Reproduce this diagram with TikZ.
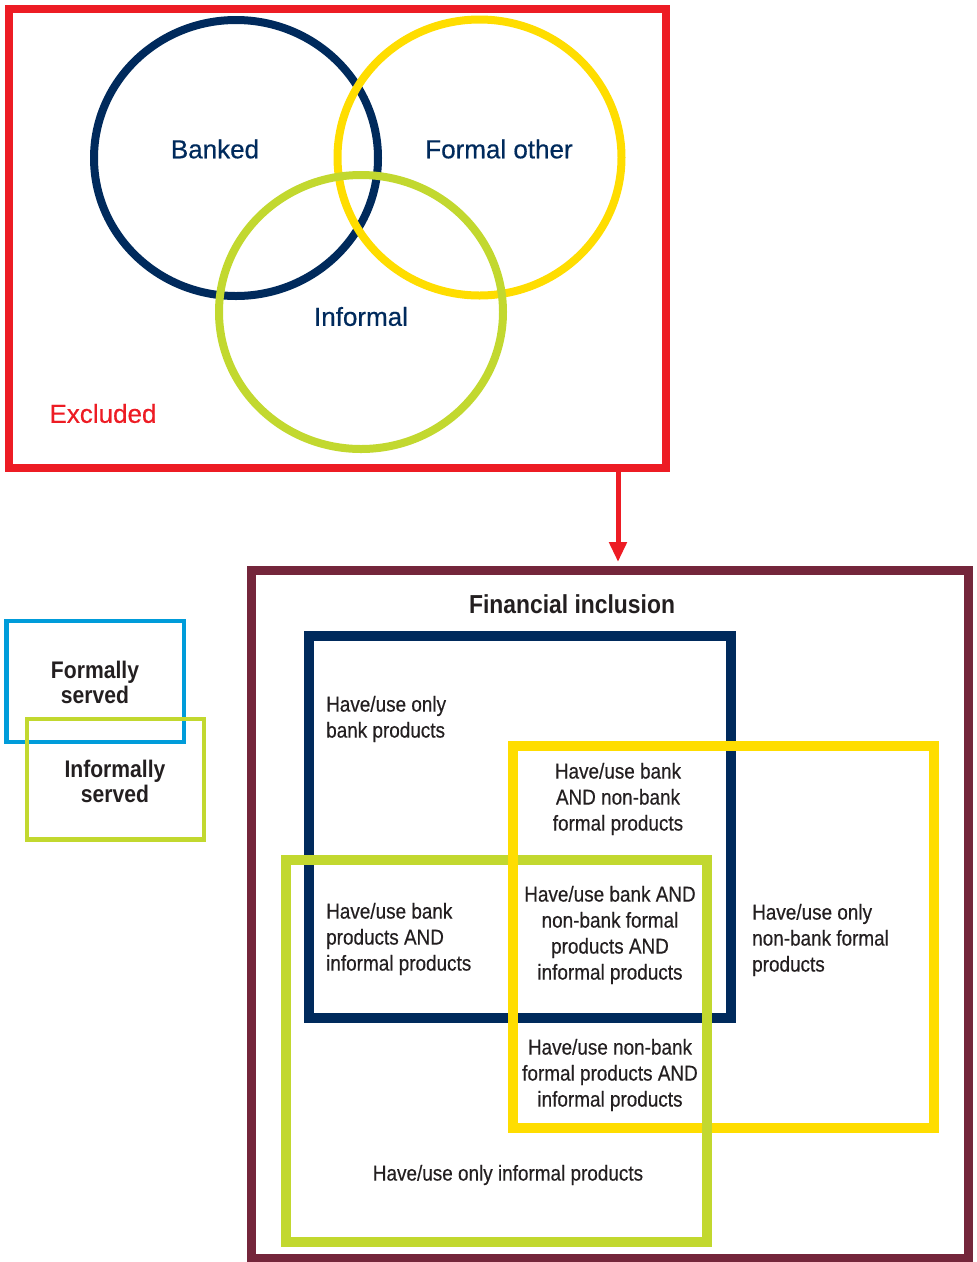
\documentclass[tikz,border=0pt]{standalone}
\usepackage{fontspec}
\setmainfont{Liberation Sans}
\newfontfamily\narrowfont[FakeStretch=0.88]{Liberation Sans}
\newfontfamily\cellfont[FakeStretch=0.88, FakeBold=0.4]{Liberation Sans}
\newfontfamily\vennfont[FakeBold=0.5]{Liberation Sans}
\usetikzlibrary{arrows.meta}

\definecolor{exclred}{HTML}{ED1C24}
\definecolor{banknavy}{HTML}{002A5C}
\definecolor{formalyellow}{HTML}{FFDD00}
\definecolor{informalgreen}{HTML}{C2D82F}
\definecolor{incmaroon}{HTML}{74263B}
\definecolor{servedblue}{HTML}{009CDA}
\definecolor{textgray}{HTML}{231F20}

\begin{document}
\begin{tikzpicture}[x=1pt, y=-1pt,
    ring/.style={line width=8pt},
    frame/.style={line width=10pt},
    legendbox/.style={line width=4.5pt},
    vennlabel/.style={font=\vennfont\fontsize{26}{30}\selectfont, inner sep=0pt},
    cell/.style={font=\cellfont\fontsize{21.5}{26}\selectfont, text=textgray, inner sep=0pt},
    heading/.style={font=\narrowfont\bfseries\fontsize{24}{25}\selectfont, text=textgray, inner sep=0pt, align=center}]
    \useasboundingbox (0,0) rectangle (977,1262);

    % excluded population and the three circles
    \draw[exclred, line width=8pt] (9,8.5) rectangle (666,468);
    \draw[ring, banknavy] (236,158) ellipse [x radius=142pt, y radius=138pt];
    \draw[ring, formalyellow] (479.5,157.5) ellipse [x radius=142pt, y radius=138pt];
    \draw[ring, informalgreen] (361,312) ellipse [x radius=142pt, y radius=137pt];
    \node[vennlabel, text=banknavy] (banked) at (215,149) {Banked};
    \node[vennlabel, text=banknavy] (formalother) at (499,149) {Formal other};
    \node[vennlabel, text=banknavy] (informal) at (361,316.5) {Informal};
    \node[vennlabel, text=exclred] (excluded) at (103,413.5) {Excluded};

    \coordinate (exclout) at (618,468);
    \coordinate (incin) at (618,562);
    \draw[exclred, line width=5pt, -{Triangle[length=20pt, width=17pt]}] (exclout) -- (incin);

    % financial inclusion
    \draw[incmaroon, line width=9pt] (251.5,570.5) rectangle (968,1258);
    \node[heading, font=\narrowfont\bfseries\fontsize{26}{28}\selectfont] (fininc) at (572,604) {Financial inclusion};

    \draw[frame, banknavy] (309,636) rectangle (731,1018);
    \draw[frame, informalgreen] (286,860) rectangle (707,1242);
    \draw[frame, formalyellow] (513,746) rectangle (934,1128);
    \draw[frame, informalgreen] (707,1110) -- (707,1146);

    \node[cell, anchor=west, align=left] (onlybank) at (326,719) {Have/use only\\bank products};
    \node[cell, align=center] (bankformal) at (618,799) {Have/use bank\\AND non-bank\\formal products};
    \node[cell, align=center] (allthree) at (610,935) {Have/use bank AND\\non-bank formal\\products AND\\informal products};
    \node[cell, anchor=west, align=left] (bankinformal) at (326,939) {Have/use bank\\products AND\\informal products};
    \node[cell, anchor=west, align=left] (onlyformal) at (752,940) {Have/use only\\non-bank formal\\products};
    \node[cell, align=center] (formalinformal) at (610,1075) {Have/use non-bank\\formal products AND\\informal products};
    \node[cell] (onlyinformal) at (508,1175) {Have/use only informal products};

    % legend
    \draw[legendbox, servedblue] (6.7,621) rectangle (184,742);
    \draw[legendbox, informalgreen] (27,719) rectangle (204,839.5);
    \node[heading] (formally) at (95,682) {Formally\\served};
    \node[heading] (informally) at (115,781) {Informally\\served};
\end{tikzpicture}
\end{document}
